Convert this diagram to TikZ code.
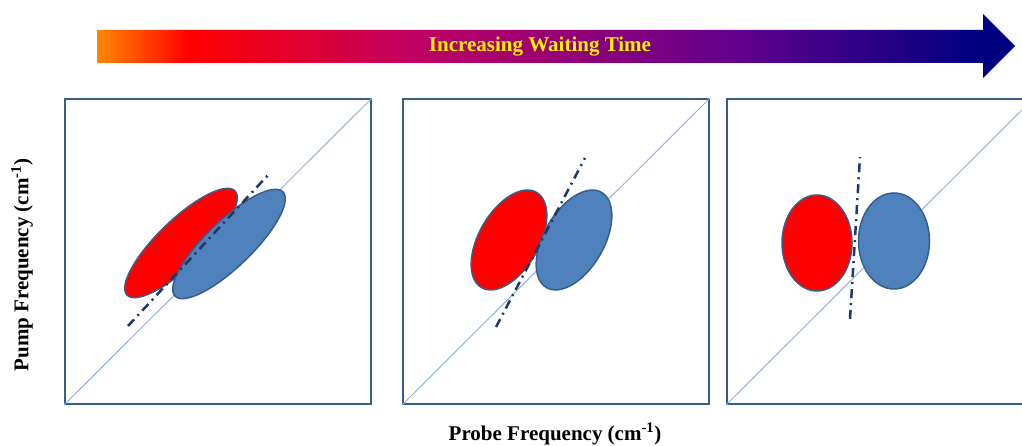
\documentclass[tikz,border=0pt]{standalone}
\usepackage{fontspec}
\setmainfont{Liberation Serif}
\usetikzlibrary{shapes.geometric}
\definecolor{boxblue}{HTML}{385D8A}
\definecolor{diagblue}{HTML}{95B3D7}
\definecolor{peakblue}{HTML}{4F81BD}
\definecolor{slopenavy}{HTML}{1F3864}
\definecolor{waitorange}{HTML}{FF8800}
\definecolor{waitcrimson}{HTML}{BE0064}
\definecolor{waitpurple}{HTML}{64008C}
\definecolor{waitnavy}{HTML}{000080}
\pgfdeclarehorizontalshading{waitshade}{100bp}{color(0bp)=(waitorange); color(25bp)=(waitorange); color(30bp)=(red); color(42.5bp)=(waitcrimson); color(59.5bp)=(waitpurple); color(73bp)=(waitnavy); color(100bp)=(waitnavy)}
\tikzset{
	panel/.style={draw=boxblue,line width=2pt,minimum width=306pt,minimum height=305pt,inner sep=0pt},
	diag/.style={diagblue,line width=1pt},
	peak/.style={ellipse,draw=boxblue,line width=1.5pt,inner sep=0pt},
	negpeak/.style={peak,fill=red},
	pospeak/.style={peak,fill=peakblue},
	slope/.style={slopenavy,line width=2.5pt,dash pattern=on 9pt off 5pt on 2pt off 5pt},
	axislbl/.style={font=\fontsize{21}{25}\selectfont\bfseries}
}
\begin{document}
\begin{tikzpicture}[x=1pt,y=1pt]
	\useasboundingbox (0,0) rectangle (1022,446);
	\shade[shading=waitshade] (97,416) -- (983,416) -- (983,432) -- (1015,400) -- (983,368) -- (983,383) -- (97,383) -- cycle;
	\node[axislbl,text=yellow] (waitlbl) at (540,399) {Increasing Waiting Time};
	\node[panel] (p1) at (218,194.5) {};
	\node[panel] (p2) at (556,194.5) {};
	\node[panel] (p3) at (880,194.5) {};
	\foreach \p in {p1,p2,p3}
		\draw[diag] (\p.south west) -- (\p.north east);
	\node[negpeak,minimum width=150pt,minimum height=46pt,rotate=44] (r1) at (181,203) {};
	\node[pospeak,minimum width=150pt,minimum height=46pt,rotate=44] (b1) at (229,202) {};
	\node[negpeak,minimum width=110pt,minimum height=60pt,rotate=60] (r2) at (509,206) {};
	\node[pospeak,minimum width=110pt,minimum height=60pt,rotate=60] (b2) at (574,206) {};
	\node[negpeak,minimum width=70pt,minimum height=96pt] (r3) at (817,203) {};
	\node[pospeak,minimum width=71pt,minimum height=96pt] (b3) at (894,205) {};
	\coordinate (s1a) at (128,120);
	\coordinate (s1b) at (270,273);
	\coordinate (s2a) at (496,119);
	\coordinate (s2b) at (585,288);
	\coordinate (s3a) at (850,127);
	\coordinate (s3b) at (860,289);
	\draw[slope] (s1a) -- (s1b);
	\draw[slope] (s2a) -- (s2b);
	\draw[slope] (s3a) -- (s3b);
	\node[axislbl,rotate=90] (pumplbl) at (22,181) {Pump Frequency (cm\textsuperscript{-1})};
	\node[axislbl] (probelbl) at (555,12) {Probe Frequency (cm\textsuperscript{-1})};
\end{tikzpicture}
\end{document}
